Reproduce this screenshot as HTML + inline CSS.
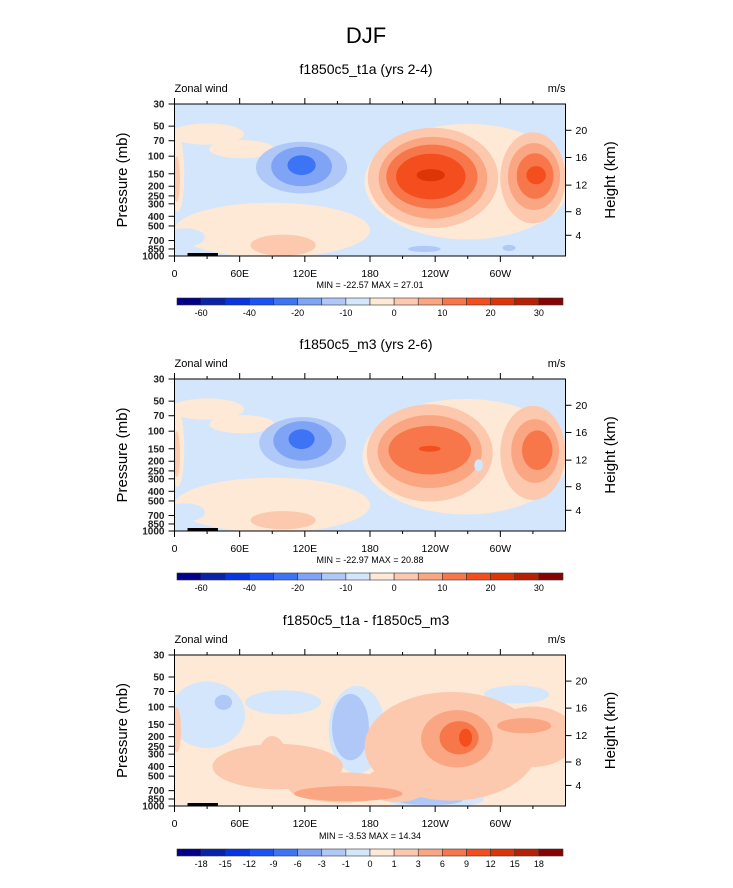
<!DOCTYPE html>
<html><head><meta charset="utf-8"><style>
body{margin:0;background:#fff;}
svg{display:block;font-family:"Liberation Sans",Arial,sans-serif;}
</style></head><body>
<svg id="c" width="733" height="888" viewBox="0 0 733 888" xmlns="http://www.w3.org/2000/svg">
<text x="366" y="43" font-size="22" text-anchor="middle">DJF</text>
</svg>
<script>
const colors=["#02008a","#0a22a8","#0534e0","#1a52f5","#3d74f5","#7fa4f5","#b0c8f8","#d4e6fb","#fde9d6","#fcc8ae","#fba683","#f7774a","#f54e1e","#dd3508","#b82006","#870303"];
const lonTicks=[0,60,120,180,240,300];
const lonLabels=["0","60E","120E","180","120W","60W"];
const presTicks=[30,50,70,100,150,200,250,300,400,500,700,850,1000];
const kmTicks=[4,8,12,16,20];
const kmPres=[620,360,195,103,55];
const titles=["f1850c5_t1a (yrs 2-4)","f1850c5_m3 (yrs 2-6)","f1850c5_t1a - f1850c5_m3"];
const stats=["MIN = -22.57  MAX =  27.01","MIN = -22.97  MAX =  20.88","MIN =  -3.53  MAX =  14.34"];
const cbLabels1=["-60","","-40","","-20","","-10","","0","","10","","20","","30"];
const cbLabels3=["-18","-15","-12","-9","-6","-3","-1","0","1","3","6","9","12","15","18"];
const bgLevel=[7,7,8];
// blobs: lon, pressure, half-width (deg), half-height (axis fraction), level
const p1Lon=[30,62,3,90,270,10,100,238,238,237,236,236,330,331,332,333,117,117,117,230,308,2];
const p1P=[60,85,150,550,180,650,780,165,165,160,160,155,165,160,158,155,130,127,123,850,830,170];
const p1W=[34,30,6,90,95,18,30,60,50,42,32,13,30,24,17,9,42,28,13,15,6,3];
const p1H=[0.07,0.06,0.25,0.18,0.38,0.06,0.07,0.33,0.27,0.21,0.15,0.04,0.3,0.22,0.15,0.06,0.17,0.13,0.065,0.02,0.02,0.15];
const p1L=[8,8,8,8,8,7,9,9,10,11,12,13,9,10,11,12,6,5,4,6,6,9];
const p2Lon=[30,62,3,90,268,10,100,235,235,235,235,330,332,334,118,118,117,280,2];
const p2P=[60,85,150,550,180,650,780,165,160,155,150,165,158,155,131,125,120,220,170];
const p2W=[34,30,6,90,95,18,30,58,48,38,10,30,22,14,40,27,12,4,3];
const p2H=[0.07,0.06,0.25,0.18,0.38,0.06,0.06,0.32,0.24,0.16,0.02,0.31,0.21,0.13,0.17,0.13,0.065,0.04,0.15];
const p2L=[8,8,8,8,8,7,9,9,10,11,12,9,10,11,6,5,4,7,9];
const p3Lon=[30,100,168,315,240,162,45,235,255,330,95,155,205,2,160,90,260,322,262,268];
const p3P=[120,90,170,75,850,160,90,880,250,200,400,650,600,170,750,300,210,155,205,205];
const p3W=[35,35,26,30,45,17,8,30,80,40,60,50,30,4,50,12,33,25,18,6];
const p3H=[0.22,0.08,0.29,0.06,0.06,0.22,0.05,0.03,0.36,0.2,0.15,0.1,0.12,0.15,0.05,0.12,0.19,0.05,0.11,0.06];
const p3L=[7,7,7,7,7,6,6,6,9,9,9,9,9,9,10,9,10,10,11,12];
const panels=[[p1Lon,p1P,p1W,p1H,p1L],[p2Lon,p2P,p2W,p2H,p2L],[p3Lon,p3P,p3W,p3H,p3L]];
const offsets=[0,275,551];
const NS="http://www.w3.org/2000/svg";
const svg=document.getElementById('c');
const X0=174.5,X1=565.5;
function mk(tag,attrs,parent){const e=document.createElementNS(NS,tag);for(const k in attrs)e.setAttribute(k,attrs[k]);(parent||svg).appendChild(e);return e;}
panels.forEach((pd,pi)=>{
  const top=104+offsets[pi],bot=256+offsets[pi]-(pi==2?1:0);
  const H=bot-top;
  const xs=lon=>X0+lon/360*(X1-X0);
  const ys=p=>bot-Math.log(1000/p)/Math.log(1000/30)*H;
  const g=mk('g',{});
  
  
  const t=mk('text',{x:366,y:74+offsets[pi],'font-size':14,'text-anchor':'middle'},g);t.textContent=titles[pi];
  
  const zl=mk('text',{x:X0,y:92+offsets[pi],'font-size':11},g);zl.textContent='Zonal wind';
  
  const ul=mk('text',{x:X1,y:92+offsets[pi],'font-size':11,'text-anchor':'end'},g);ul.textContent='m/s';
  
  const cp=mk('clipPath',{id:'cl'+pi},g);mk('rect',{x:X0,y:top,width:X1-X0,height:H},cp);
  const pl=mk('g',{'clip-path':'url(#cl'+pi+')'},g);
  
  mk('rect',{x:X0,y:top,width:X1-X0,height:H,fill:colors[bgLevel[pi]]},pl);
  const [lo,pr,w,h,lv]=pd;
  for(let i=0;i<lo.length;i++){
    const e=mk('ellipse',{cx:xs(lo[i]),cy:ys(pr[i]),rx:w[i]/360*(X1-X0),ry:h[i]*H,fill:colors[lv[i]]},pl);
    
    
  }
  mk('rect',{x:xs(12),y:bot-3,width:xs(40)-xs(12),height:3,fill:'#000'},pl);
  mk('rect',{x:X0,y:top,width:X1-X0,height:H,fill:'none',stroke:'#000','stroke-width':1},g);
  for(let l=0;l<=330;l+=30){
    const x=xs(l),maj=l%60==0;
    mk('line',{x1:x,x2:x,y1:bot,y2:bot+(maj?6:3),stroke:'#000'},g);
    mk('line',{x1:x,x2:x,y1:top,y2:top-(maj?6:3),stroke:'#000'},g);
  }
  lonTicks.forEach((l,i)=>{const tx=mk('text',{x:xs(l),y:bot+21,'font-size':10.5,'text-anchor':'middle'},g);tx.textContent=lonLabels[i];
    });
  presTicks.forEach(p=>{const y=ys(p);mk('line',{x1:X0,x2:X0-6,y1:y,y2:y,stroke:'#000'},g);
    const tx=mk('text',{x:X0-10,y:y+3.5,'font-size':10,'font-weight':'bold','text-anchor':'end',fill:'#222'},g);tx.textContent=p;
    });
  kmTicks.forEach((k,i)=>{const y=ys(kmPres[i]);mk('line',{x1:X1,x2:X1+6,y1:y,y2:y,stroke:'#000'},g);
    const tx=mk('text',{x:X1+10,y:y+3.5,'font-size':10.5},g);tx.textContent=k;
    });
  const yl=mk('text',{transform:`translate(127 ${(top+bot)/2}) rotate(-90)`,'font-size':15,'text-anchor':'middle'},g);yl.textContent='Pressure (mb)';
  
  const yr=mk('text',{transform:`translate(615 ${(top+bot)/2}) rotate(-90)`,'font-size':15,'text-anchor':'middle'},g);yr.textContent='Height (km)';
  
  const st=mk('text',{x:370,y:288+offsets[pi],'font-size':9,'text-anchor':'middle'},g);st.textContent=stats[pi];
  
  const cb=mk('g',{},g);
  
  const cy=298+offsets[pi],bw=(563-177)/16;
  colors.forEach((c,i)=>{const r=mk('rect',{x:177+i*bw,y:cy,width:bw,height:7,fill:c,stroke:'#333','stroke-width':0.6},cb);
    });
  const labs=pi==2?cbLabels3:cbLabels1;
  labs.forEach((s,i)=>{if(!s)return;const tx=mk('text',{x:177+(i+1)*bw,y:cy+18,'font-size':9,'text-anchor':'middle'},cb);tx.textContent=s;
    });
});
</script>
</body></html>
